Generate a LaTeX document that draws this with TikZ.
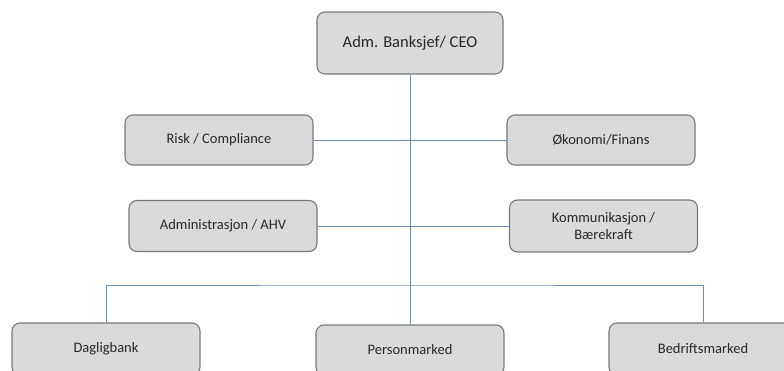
\documentclass[tikz,border=0pt]{standalone}
\usepackage{fontspec}
\setmainfont{Carlito}
\definecolor{boxfill}{RGB}{218,218,218}
\definecolor{boxdraw}{RGB}{120,120,120}
\definecolor{linkcol}{RGB}{110,142,180}
\definecolor{txtcol}{RGB}{40,40,40}
\tikzset{
  unit/.style={draw=boxdraw, fill=boxfill, line width=1.1pt, rounded corners=8pt,
    minimum width=188pt, minimum height=50pt, text=txtcol, font=\fontsize{14.5}{17.5}\selectfont,
    align=center, inner sep=2pt},
  link/.style={draw=linkcol, line width=0.9pt}
}
\begin{document}
\begin{tikzpicture}[x=1pt,y=-1pt]
\useasboundingbox (0,0) rectangle (784,370);
\clip (0,0) rectangle (784,370);
\node[unit, minimum width=186pt, minimum height=62pt, font=\fontsize{16.5}{19}\selectfont] (ceo) at (410,43) {Adm. Banksjef/ CEO};
\node[unit] (risk) at (219,140) {Risk / Compliance};
\node[unit] (oko) at (601,140) {Økonomi/Finans};
\node[unit, minimum height=51pt] (adm) at (223,226) {Administrasjon / AHV};
\node[unit, minimum height=52pt] (kom) at (603.5,226) {Kommunikasjon /\\Bærekraft};
\node[unit, minimum height=52pt] (dag) at (106,349) {Dagligbank};
\node[unit, minimum height=50pt] (per) at (410,350) {Personmarked};
\node[unit, minimum height=52pt] (bed) at (703,349) {Bedriftsmarked};
\coordinate (bus) at (410,285);
\draw[link] (ceo.south) -- (per.north);
\draw[link] (risk.east) -- (oko.west);
\draw[link] (adm.east) -- (kom.west);
\draw[link] (dag.north) |- (bus) -| (bed.north);
\end{tikzpicture}
\end{document}
